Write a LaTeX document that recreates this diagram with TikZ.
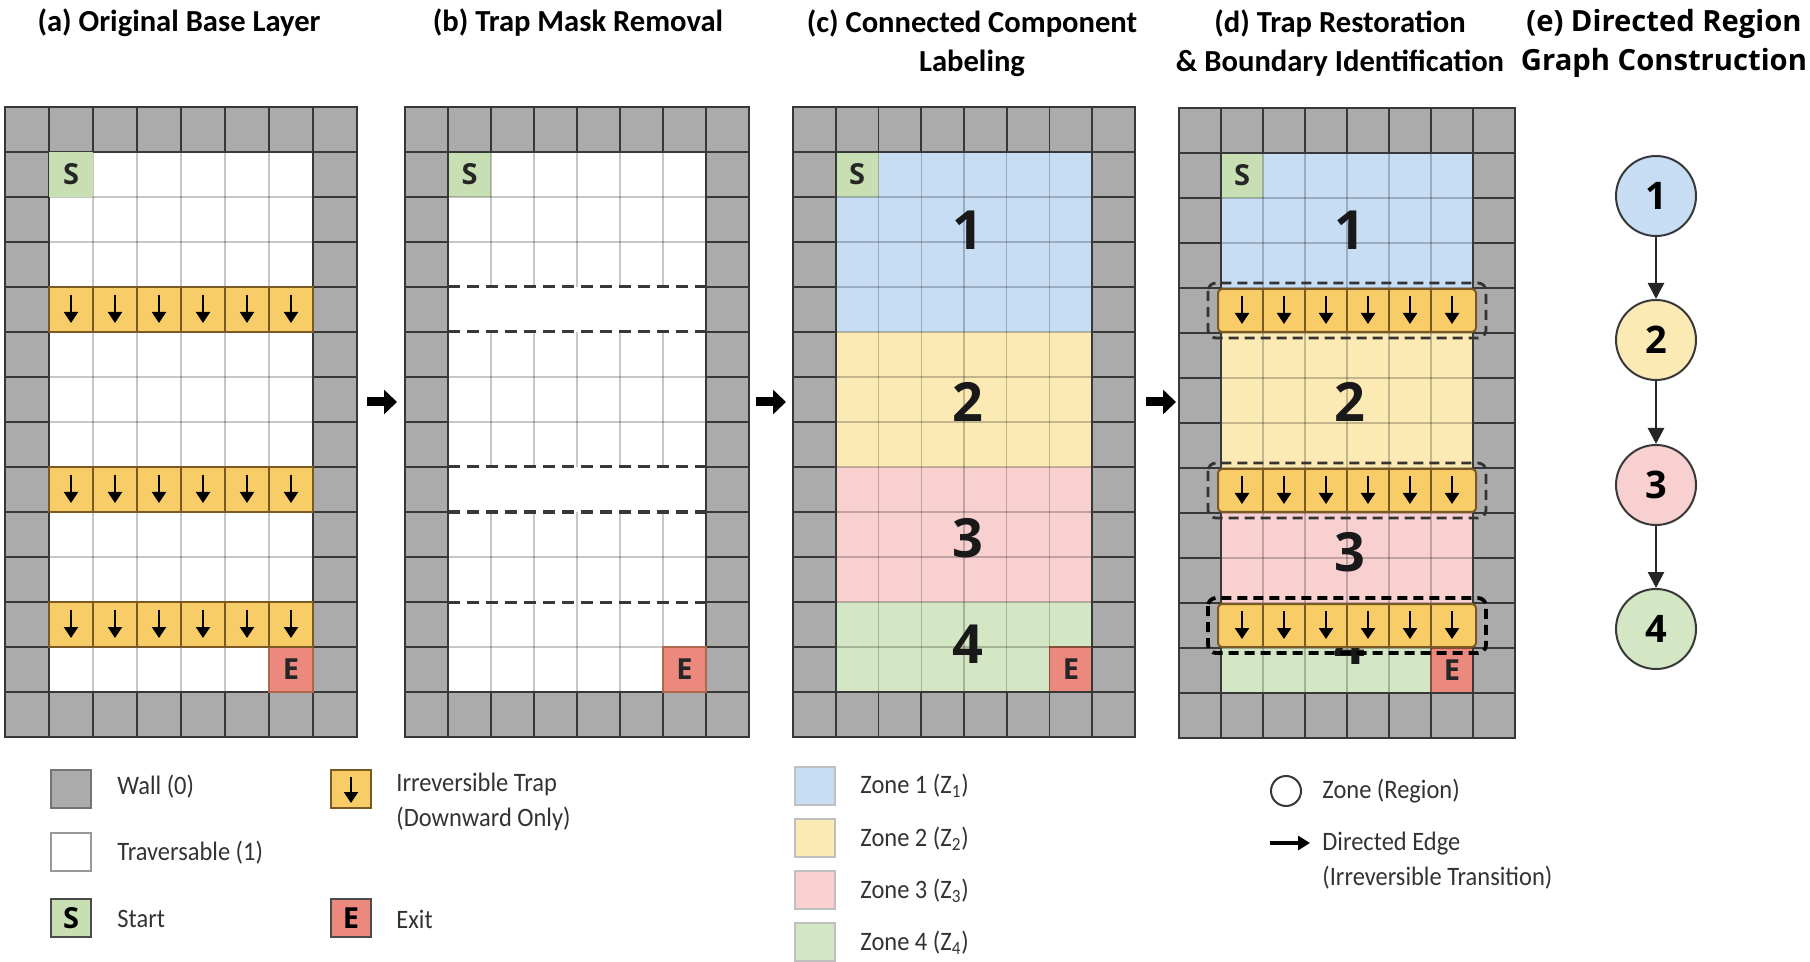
\documentclass[tikz,border=0pt]{standalone}
\usepackage{fontspec}
\setmainfont{Carlito}
\newfontfamily\legfont[FakeStretch=0.92]{Carlito}
\newfontfamily\numfont{Open Sans}
\usetikzlibrary{arrows.meta}

\definecolor{wallc}{HTML}{ABABAB}
\definecolor{gridd}{HTML}{383838}
\definecolor{trapc}{HTML}{F8CD68}
\definecolor{trapb}{HTML}{7A5A22}
\definecolor{startc}{HTML}{C7DFB2}
\definecolor{exitc}{HTML}{EC897F}
\definecolor{exitb}{HTML}{B0664A}
\definecolor{zone1}{HTML}{C6DDF4}
\definecolor{zone2}{HTML}{FCEAB4}
\definecolor{zone3}{HTML}{F8D0D0}
\definecolor{zone4}{HTML}{D4E7C5}
\definecolor{legtext}{HTML}{333333}

\tikzset{
  wline/.style={draw=gridd, line width=0.9pt},
  lline/.style={draw=black, draw opacity=0.22, line width=0.7pt},
  oline/.style={draw=gridd, line width=1.2pt},
  trapline/.style={draw=trapb, line width=0.8pt},
  trarrow/.style={line width=1.2pt, -{Triangle[length=5.5pt,width=7pt]}},
  dashd/.style={draw=gridd, line width=1.5pt, dash pattern=on 6pt off 3.5pt},
  dashbox/.style={draw=black!80, line width=1.4pt, dash pattern=on 5pt off 3pt},
  dashboxk/.style={draw=black, line width=1.9pt, dash pattern=on 5pt off 3pt},
  letter/.style={font=\numfont\bfseries\fontsize{14.5}{14.5}\selectfont, text=black!85, inner sep=0pt},
  bignum/.style={font=\numfont\bfseries\fontsize{27}{27}\selectfont, text=black!90, inner sep=0pt},
  ttl/.style={font=\bfseries\fontsize{15.3}{19.5}\selectfont, align=center, inner sep=0pt},
  ettl/.style={font=\numfont\bfseries\fontsize{14.6}{19.5}\selectfont, align=center, inner sep=0pt},
  leg/.style={font=\legfont\fontsize{13.3}{17.5}\selectfont, text=legtext, anchor=west, inner sep=0pt, align=left},
  zc/.style={circle, draw=gridd, line width=1pt, minimum size=40pt, inner sep=0pt, font=\numfont\bfseries\fontsize{19}{19}\selectfont},
  garrow/.style={draw=black!85, line width=1.3pt, -{Triangle[length=8pt,width=8pt]}},
  bigarrow/.style={line width=4.5pt, -{Triangle[length=6.5pt,width=12pt]}},
  legarrow/.style={line width=1.6pt, -{Triangle[length=6pt,width=7pt]}},
  swatch/.style={minimum width=20pt, minimum height=19pt, inner sep=0pt, line width=0.8pt},
}

\newcommand\setpanel[3]{\def\PX{#1}\def\PW{#2}\def\PY{#3}}
\newcommand\zfill[3]{\fill[#3] ({\PX+\PW},{\PY+(#1)*45}) rectangle ({\PX+7*\PW},{\PY+(#2+1)*45});}
\newcommand\basefill{\fill[wallc] (\PX,\PY) rectangle ({\PX+8*\PW},{\PY+14*45});\zfill{1}{12}{white}}
\newcommand\lightgrid{%
  \foreach \i in {2,...,6} {\draw[lline] ({\PX+\i*\PW},{\PY+45}) -- ({\PX+\i*\PW},{\PY+13*45});}
  \foreach \j in {2,...,12} {\draw[lline] ({\PX+\PW},{\PY+\j*45}) -- ({\PX+7*\PW},{\PY+\j*45});}}
\newcommand\wallgrid{%
  \foreach \i in {1,...,7} {\draw[wline] ({\PX+\i*\PW},{\PY}) -- ({\PX+\i*\PW},{\PY+45});
    \draw[wline] ({\PX+\i*\PW},{\PY+13*45}) -- ({\PX+\i*\PW},{\PY+14*45});}
  \foreach \j in {1,...,13} {\draw[wline] ({\PX},{\PY+\j*45}) -- ({\PX+\PW},{\PY+\j*45});
    \draw[wline] ({\PX+7*\PW},{\PY+\j*45}) -- ({\PX+8*\PW},{\PY+\j*45});}
  \draw[wline] ({\PX+\PW},{\PY+45}) rectangle ({\PX+7*\PW},{\PY+13*45});
  \draw[oline] (\PX,\PY) rectangle ({\PX+8*\PW},{\PY+14*45});}
\newcommand\startcell[1]{%
  \fill[startc] ({\PX+\PW},{\PY+45}) rectangle ({\PX+2*\PW},{\PY+90});
  \node[letter] (#1-S) at ({\PX+1.5*\PW},{\PY+67.5}) {S};}
\newcommand\exitcell[1]{%
  \filldraw[fill=exitc, draw=exitb, line width=0.6pt] ({\PX+6*\PW},{\PY+12*45}) rectangle ({\PX+7*\PW},{\PY+13*45});
  \node[letter] (#1-E) at ({\PX+6.5*\PW},{\PY+12.5*45}) {E};}
\newcommand\traparrows[1]{%
  \foreach \i in {1,...,6} {\draw[trarrow] ({\PX+(\i+0.5)*\PW},{\PY+#1*45+8}) -- ({\PX+(\i+0.5)*\PW},{\PY+#1*45+36});}}
\newcommand\traprowA[1]{%
  \fill[trapc] ({\PX+\PW},{\PY+#1*45}) rectangle ({\PX+7*\PW},{\PY+(#1+1)*45});
  \foreach \i in {1,...,6} {\draw[trapline] ({\PX+\i*\PW},{\PY+#1*45}) rectangle ({\PX+(\i+1)*\PW},{\PY+(#1+1)*45});}
  \traparrows{#1}}
\newcommand\traprowD[2]{%
  \fill[trapc, rounded corners=2pt] ({\PX+\PW-3},{\PY+#1*45+1}) rectangle ({\PX+7*\PW+3},{\PY+(#1+1)*45-1});
  \foreach \i in {2,...,6} {\draw[trapline] ({\PX+\i*\PW},{\PY+#1*45+1}) -- ({\PX+\i*\PW},{\PY+(#1+1)*45-1});}
  \draw[trapline, line width=1pt, rounded corners=2pt] ({\PX+\PW-3},{\PY+#1*45+1}) rectangle ({\PX+7*\PW+3},{\PY+(#1+1)*45-1});
  \traparrows{#1}
  \draw[#2, rounded corners=4pt] ({\PX+\PW-13},{\PY+#1*45-5}) rectangle ({\PX+7*\PW+13},{\PY+(#1+1)*45+5});}

\begin{document}
\begin{tikzpicture}[x=0.5pt,y=-0.5pt]
\useasboundingbox (0,0) rectangle (1810,962);
\fill[white] (0,0) rectangle (1810,962);

% ---------- titles ----------
\node[ttl] (ta) at (179,23) {(a) Original Base Layer};
\node[ttl] (tb) at (578,23) {(b) Trap Mask Removal};
\node[ttl] (tc) at (972,43) {(c) Connected Component\\Labeling};
\node[ttl] (td) at (1340,43) {(d) Trap Restoration\\\& Boundary Identification};
\node[ettl] (te) at (1664,43) {(e) Directed Region\\Graph Construction};

% ---------- panel (a) ----------
\setpanel{5}{44}{107}
\basefill
\lightgrid
\wallgrid
\startcell{a}
\exitcell{a}
\traprowA{4}
\traprowA{8}
\traprowA{11}

% ---------- panel (b) ----------
\setpanel{405}{43}{107}
\basefill
\startcell{b}
\foreach \i in {2,...,6} {
  \draw[lline] ({\PX+\i*\PW},{\PY+45}) -- ({\PX+\i*\PW},{\PY+4*45});
  \draw[lline] ({\PX+\i*\PW},{\PY+5*45}) -- ({\PX+\i*\PW},{\PY+8*45});
  \draw[lline] ({\PX+\i*\PW},{\PY+9*45}) -- ({\PX+\i*\PW},{\PY+13*45});}
\foreach \j in {2,3,6,7,10,12} {\draw[lline] ({\PX+\PW},{\PY+\j*45}) -- ({\PX+7*\PW},{\PY+\j*45});}
\wallgrid
\foreach \j in {4,5,8,9,11} {\draw[dashd] ({\PX+\PW},{\PY+\j*45}) -- ({\PX+7*\PW},{\PY+\j*45});}
\exitcell{b}

% ---------- panel (c) ----------
\setpanel{793}{42.75}{107}
\basefill
\zfill{1}{4}{zone1}
\zfill{5}{7}{zone2}
\zfill{8}{10}{zone3}
\zfill{11}{12}{zone4}
\startcell{c}
\exitcell{c}
\lightgrid
\wallgrid
\node[bignum] (c-n1) at (968,230) {1};
\node[bignum] (c-n2) at (968,402) {2};
\node[bignum] (c-n3) at (968,538) {3};
\node[bignum] (c-n4) at (968,644) {4};

% ---------- panel (d) ----------
\setpanel{1179}{42}{108}
\basefill
\zfill{1}{3}{zone1}
\zfill{5}{7}{zone2}
\zfill{9}{10}{zone3}
\zfill{12}{12}{zone4}
\startcell{d}
\exitcell{d}
\lightgrid
\wallgrid
\node[bignum] (d-n1) at (1350,230) {1};
\node[bignum] (d-n2) at (1350,402) {2};
\node[bignum] (d-n3) at (1350,552) {3};
\node[bignum] (d-n4) at (1350,645) {4};
\traprowD{4}{dashbox}
\traprowD{8}{dashbox}
\traprowD{11}{dashboxk}

% ---------- inter-panel arrows ----------
\coordinate (p1s) at (367,402); \coordinate (p1e) at (397,402);
\coordinate (p2s) at (756,402); \coordinate (p2e) at (786,402);
\coordinate (p3s) at (1146,402); \coordinate (p3e) at (1176,402);
\draw[bigarrow] (p1s) -- (p1e);
\draw[bigarrow] (p2s) -- (p2e);
\draw[bigarrow] (p3s) -- (p3e);

% ---------- panel (e) graph ----------
\node[zc, fill=zone1] (g1) at (1656,196) {1};
\node[zc, fill=zone2] (g2) at (1656,340) {2};
\node[zc, fill=zone3] (g3) at (1656,485) {3};
\node[zc, fill=zone4] (g4) at (1656,629) {4};
\draw[garrow] (g1) -- (g2);
\draw[garrow] (g2) -- (g3);
\draw[garrow] (g3) -- (g4);

% ---------- legend 1 ----------
\node[swatch, fill=wallc, draw=black!55] (lw) at (71,789) {};
\node[leg] (lwt) at (117,787) {Wall (0)};
\node[swatch, fill=white, draw=black!40] (lt) at (71,852) {};
\node[leg] (ltt) at (117,853) {Traversable (1)};
\node[swatch, fill=startc, draw=black!70, font=\numfont\bfseries\fontsize{14.5}{14.5}\selectfont] (ls) at (71,918) {S};
\node[leg] (lst) at (117,919) {Start};
\node[swatch, fill=trapc, draw=trapb] (lp) at (351,789) {};
\coordinate (lpa) at (351,777); \coordinate (lpb) at (351,803);
\draw[trarrow] (lpa) -- (lpb);
\node[leg] (lpt) at (396,802) {Irreversible Trap\\(Downward Only)};
\node[swatch, fill=exitc, draw=black!70, font=\numfont\bfseries\fontsize{14.5}{14.5}\selectfont] (le) at (351,918) {E};
\node[leg] (let) at (396,919) {Exit};

% ---------- legend 2 ----------
\node[swatch, fill=zone1, draw=black!25] (z1) at (815,786) {};
\node[leg] (z1t) at (860,786) {Zone 1 (Z\textsubscript{1})};
\node[swatch, fill=zone2, draw=black!25] (z2) at (815,838) {};
\node[leg] (z2t) at (860,839) {Zone 2 (Z\textsubscript{2})};
\node[swatch, fill=zone3, draw=black!25] (z3) at (815,890) {};
\node[leg] (z3t) at (860,891) {Zone 3 (Z\textsubscript{3})};
\node[swatch, fill=zone4, draw=black!25] (z4) at (815,942) {};
\node[leg] (z4t) at (860,943) {Zone 4 (Z\textsubscript{4})};

% ---------- legend 3 ----------
\node[circle, draw=gridd, line width=1pt, minimum size=15pt, inner sep=0pt] (lc) at (1286,791) {};
\node[leg] (lct) at (1322,791) {Zone (Region)};
\coordinate (la1) at (1270,843); \coordinate (la2) at (1310,843);
\draw[legarrow] (la1) -- (la2);
\node[leg] (lat) at (1322,861) {Directed Edge\\(Irreversible Transition)};
\end{tikzpicture}
\end{document}
